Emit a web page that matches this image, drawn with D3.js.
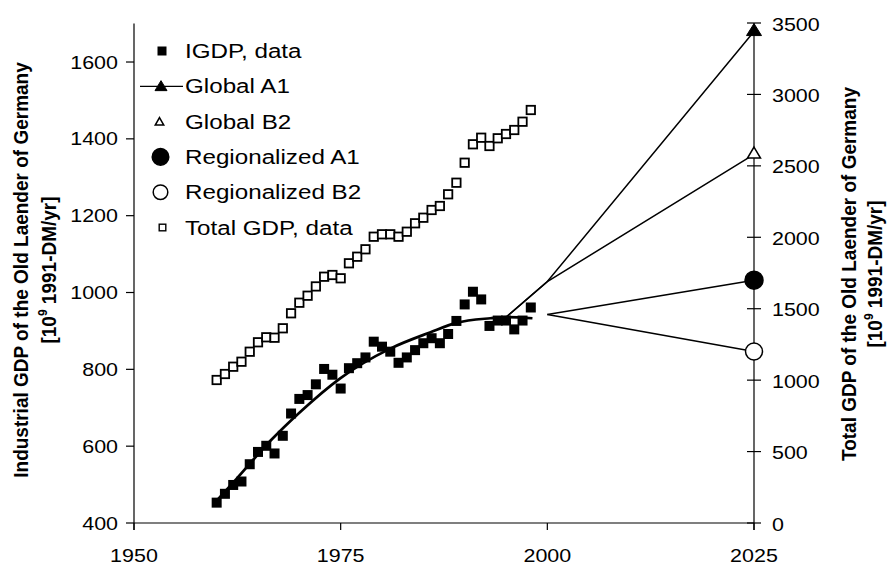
<!DOCTYPE html>
<html><head><meta charset="utf-8">
<script src="https://cdn.jsdelivr.net/npm/d3@7/dist/d3.min.js"></script>
<style>body{margin:0;background:#fff}</style>
</head><body><svg id="c" width="888" height="565"></svg>
<script>
// ---- data ----
const dataYears = [1960,1961,1962,1963,1964,1965,1966,1967,1968,1969,1970,1971,1972,1973,1974,1975,1976,1977,1978,1979,1980,1981,1982,1983,1984,1985,1986,1987,1988,1989,1990,1991,1992,1993,1994,1995,1996,1997,1998];
const igdpValues = [453,476,499,508,553,585,601,581,627,685,723,733,761,801,786,750,803,816,831,872,859,846,817,831,850,868,881,868,892,926,969,1002,982,913,927,927,904,927,961];
const totalGdpValues = [1001,1043,1094,1129,1199,1265,1300,1297,1363,1468,1542,1591,1656,1724,1736,1713,1818,1864,1916,2004,2021,2021,2004,2039,2098,2137,2191,2219,2301,2382,2522,2651,2697,2639,2693,2723,2751,2809,2891];
// fitted IGDP trend (left axis)
const fitYears = [1960,1962.4,1966.5,1970.1,1974.9,1981,1985.8,1989,1993.1,1995,1998.2];
const fitValues = [458,515,614,689,776,854,896,921,933,936,933];
// scenarios (right axis)
const globalYears = [1995,2000,2025];
const globalA1 = [1440,1690,3440];
const globalB2 = [1440,1690,2580];
const regionalYears = [2000,2025];
const regionalA1 = [1460,1700];
const regionalB2 = [1460,1200];
// axes
const xTicks = [1950,1975,2000,2025];
const leftTicks = [400,600,800,1000,1200,1400,1600];
const rightTicks = [0,500,1000,1500,2000,2500,3000,3500];
const legendLabels = ["IGDP, data","Global A1","Global B2","Regionalized A1","Regionalized B2","Total GDP, data"];
const leftTitle = "Industrial GDP of the Old Laender of Germany";
const rightTitle = "Total GDP of the Old Laender of Germany";
const unitPre = "[10", unitSup = "9", unitPost = " 1991-DM/yr]";

// ---- drawing ----
const svg = d3.select("#c");
const FONT = "'Liberation Sans', Arial, Helvetica, sans-serif";
const x = d3.scaleLinear().domain([1950, 2025]).range([134, 754]);
const yL = d3.scaleLinear().domain([400, 1700]).range([523, 23.6]);
const yR = d3.scaleLinear().domain([0, 3500]).range([523, 23]);

function txt(g, s, px, py, o) {
  o = o || {};
  const sx = o.sx || 1.13;
  let tr = `translate(${px},${py}) scale(${sx},1)`;
  if (o.rot) tr += ` rotate(${o.rot})`;
  return g.append("text").attr("transform", tr)
    .attr("font-family", FONT).attr("font-size", o.size || 19)
    .attr("font-weight", o.bold ? "bold" : "normal")
    .attr("text-anchor", o.anchor || "start").attr("fill", "#000").text(s);
}

const ax = svg.append("g").attr("stroke", "#000").attr("stroke-width", 1.2).attr("fill", "none");
// left axis
ax.append("line").attr("x1", x(1950)).attr("x2", x(1950)).attr("y1", yL(1700)).attr("y2", yL(400) + 7);
leftTicks.forEach(t => ax.append("line").attr("x1", x(1950) - 8).attr("x2", x(1950)).attr("y1", yL(t)).attr("y2", yL(t)));
// right axis
ax.append("line").attr("x1", x(2025)).attr("x2", x(2025)).attr("y1", yR(3500)).attr("y2", yR(0) + 7);
rightTicks.forEach(t => ax.append("line").attr("x1", x(2025) - 7).attr("x2", x(2025) + 7).attr("y1", yR(t)).attr("y2", yR(t)));
// x axis
ax.append("line").attr("x1", x(1950)).attr("x2", x(2025)).attr("y1", yL(400)).attr("y2", yL(400));
xTicks.forEach(t => ax.append("line").attr("x1", x(t)).attr("x2", x(t)).attr("y1", yL(400)).attr("y2", yL(400) + 7));

const tl = svg.append("g");
leftTicks.forEach(t => txt(tl, String(t), 118, yL(t) + 6.5, {anchor: "end"}));
rightTicks.forEach(t => txt(tl, String(t), 772, yR(t) + 7.5));
xTicks.forEach(t => txt(tl, String(t), x(t), 562, {anchor: "middle"}));

// axis titles
function title(px1, px2, cy, main) {
  txt(tl, main, px1, cy, {rot: -90, anchor: "middle", bold: true, size: 19, sx: 1.1});
  const t2 = txt(tl, "", px2, cy, {rot: -90, anchor: "middle", bold: true, size: 19, sx: 1.1});
  t2.text(null);
  t2.append("tspan").text(unitPre);
  t2.append("tspan").attr("font-size", 12).attr("dy", -8).text(unitSup);
  t2.append("tspan").attr("dy", 8).text(unitPost);
}
title(27.5, 56, 270, leftTitle);
title(856, 882, 274, rightTitle);

// scenario lines
const lineR = d3.line().x(d => x(d[0])).y(d => yR(d[1]));
const sc = svg.append("g").attr("fill", "none").attr("stroke", "#000").attr("stroke-width", 1.5);
[globalA1, globalB2].forEach(v => sc.append("path").attr("d", lineR(globalYears.map((yr, i) => [yr, v[i]]))));
[regionalA1, regionalB2].forEach(v => sc.append("path").attr("d", lineR(regionalYears.map((yr, i) => [yr, v[i]]))));

// fitted curve
const lineL = d3.line().x(d => x(d[0])).y(d => yL(d[1])).curve(d3.curveMonotoneX);
svg.append("path").attr("d", lineL(fitYears.map((yr, i) => [yr, fitValues[i]])))
  .attr("fill", "none").attr("stroke", "#000").attr("stroke-width", 2.7);

// open squares (total GDP)
svg.append("g").selectAll("rect").data(dataYears.map((yr, i) => [yr, totalGdpValues[i]])).join("rect")
  .attr("x", d => x(d[0]) - 4.2).attr("y", d => yR(d[1]) - 4.2).attr("width", 8.4).attr("height", 8.4)
  .attr("fill", "#fff").attr("stroke", "#000").attr("stroke-width", 1.8);
// filled squares (IGDP)
svg.append("g").selectAll("rect").data(dataYears.map((yr, i) => [yr, igdpValues[i]])).join("rect")
  .attr("x", d => x(d[0]) - 5).attr("y", d => yL(d[1]) - 5).attr("width", 10).attr("height", 10)
  .attr("fill", "#000");

// marker shapes
function tri(g, cx, cy, w, h, filled) {
  g.append("path").attr("d", `M${cx},${cy - h * 2 / 3}L${cx + w / 2},${cy + h / 3}L${cx - w / 2},${cy + h / 3}Z`)
    .attr("fill", filled ? "#000" : "#fff").attr("stroke", "#000").attr("stroke-width", filled ? 1 : 1.5);
}
function circ(g, cx, cy, r, filled) {
  g.append("circle").attr("cx", cx).attr("cy", cy).attr("r", r)
    .attr("fill", filled ? "#000" : "#fff").attr("stroke", "#000").attr("stroke-width", 1.5);
}
const em = svg.append("g");
tri(em, x(2025), yR(globalA1[2]), 15, 12, true);
tri(em, x(2025), yR(globalB2[2]), 13, 11, false);
circ(em, x(2025), yR(regionalA1[1]), 9, true);
circ(em, x(2025), yR(regionalB2[1]), 8.5, false);

// legend
const lg = svg.append("g");
const lb0 = 58, lstep = 35.3, lx = 162, ltx = 185;
legendLabels.forEach((s, i) => txt(lg, s, ltx, lb0 + i * lstep, {size: 20, sx: 1.21}));
const cy = i => lb0 + i * lstep - 7;
lg.append("rect").attr("x", lx - 4.5).attr("y", cy(0) - 4.5).attr("width", 9).attr("height", 9).attr("fill", "#000");
lg.append("line").attr("x1", 140).attr("x2", 183).attr("y1", cy(1)).attr("y2", cy(1)).attr("stroke", "#000").attr("stroke-width", 1.3);
tri(lg, 161, cy(1) + 1, 12, 10, true);
tri(lg, 159.5, cy(2) + 1, 8.5, 7.5, false);
circ(lg, 160.5, cy(3), 8.3, true);
circ(lg, 160.5, cy(4), 7.3, false);
lg.append("rect").attr("x", 162.5 - 3.3).attr("y", cy(5) - 3.3).attr("width", 6.6).attr("height", 6.6)
  .attr("fill", "#fff").attr("stroke", "#000").attr("stroke-width", 1.4);
</script></body></html>
